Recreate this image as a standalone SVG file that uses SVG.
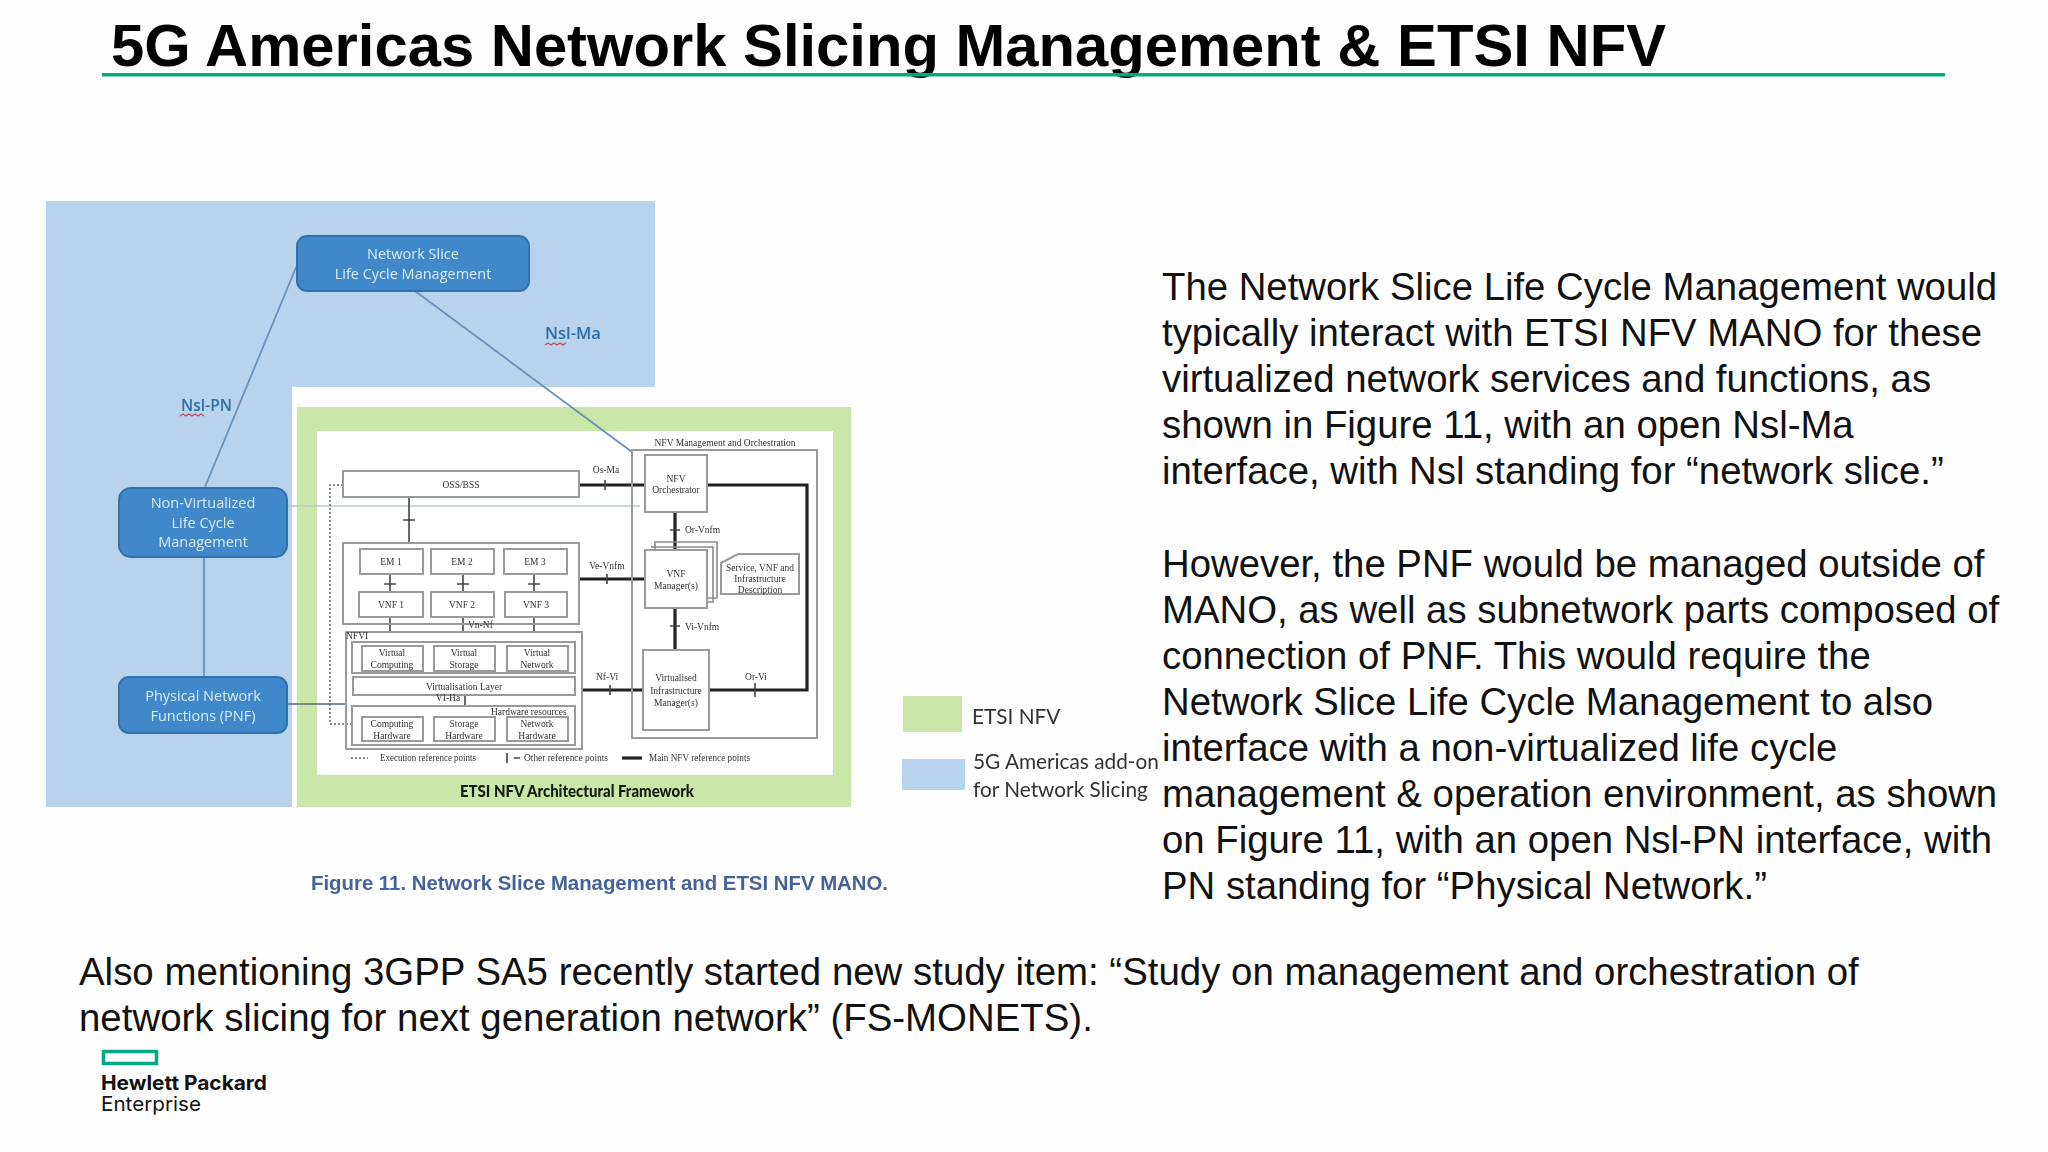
<svg xmlns="http://www.w3.org/2000/svg" width="2048" height="1152" viewBox="0 0 2048 1152" font-family="'Liberation Sans',Arial,sans-serif">
<defs>
<filter id="soft" x="-2%" y="-2%" width="104%" height="104%"><feGaussianBlur stdDeviation="0.65"/></filter>
</defs>
<style>
.title{font-size:60px;font-weight:700;fill:#000}
.body{font-size:38.35px;fill:#111}
.body2{font-size:38.42px;fill:#111}
.node{fill:#3f88c9;stroke:#2f72ae;stroke-width:2}
.nt{font-family:"Open Sans",sans-serif;font-size:14.5px;fill:#d8ecfa;text-anchor:middle}
.lab{font-family:"Open Sans",sans-serif;font-size:17px;font-weight:600;fill:#2a6ea8}
.sq{fill:none;stroke:#c8455a;stroke-width:1.2}
.b{fill:#fff;stroke:#9a9a9a;stroke-width:2}
.o{fill:none;stroke:#9a9a9a;stroke-width:2}
.l{fill:none;stroke:#8a8a8a;stroke-width:1.6}
.t{fill:none;stroke:#222;stroke-width:3.2}
.m{fill:none;stroke:#444;stroke-width:1.6}
.d{fill:none;stroke:#666;stroke-width:1.5;stroke-dasharray:2 2}
.c{fill:none;stroke:#6b90b8;stroke-width:1.8}
.f{font-family:"Liberation Serif",serif;font-size:9.5px;fill:#333;text-anchor:middle}
.fl{font-family:"Liberation Serif",serif;font-size:9.5px;fill:#333}
.leg{font-family:Lato,sans-serif;font-size:20.8px;fill:#333}
</style>
<rect width="2048" height="1152" fill="#fffefe"/>
<g id="header">
<text class="title" x="111" y="66" textLength="1555" lengthAdjust="spacingAndGlyphs">5G Americas Network Slicing Management &amp; ETSI NFV</text>
<rect x="102" y="73" width="1843" height="3.500" fill="#01a982"/>
</g>
<g id="figure" filter="url(#soft)">
<path d="M46 201H655V387H292V807H46Z" fill="#b9d3ec"/>
<rect x="297" y="407" width="554" height="400" fill="#c9e7a9"/>
<rect x="317" y="431" width="516" height="344" fill="#fff"/>
<g id="connectors">
<path class="c" d="M297 265L205 487"/>
<path class="c" d="M415 291L632 452"/>
<path class="c" d="M204 557V677"/>
<path d="M287 506H640" fill="none" stroke="#b7c9c4" stroke-width="1.500"/>
<path d="M287 704H347" fill="none" stroke="#55697a" stroke-width="1.600"/>
<path class="d" d="M343 485H330V724H352"/>
<path class="m" d="M409 497V543M403 520H415"/>
<path class="m" d="M390 574V592M384 584H396M463 574V592M457 584H469M534 574V592M528 584H540"/>
<path class="m" d="M390 617V632M463 617V632M534 617V632"/>
<path class="m" d="M465 695V706"/>
<path class="t" d="M579 485H645M707 485H807V690H709M675 512V550M675 608V650M579 579H645M582 690H643"/>
<path class="m" d="M605 480V490M607 574V584M610 685V695M755 683V697M670 530H680M670 626H680"/>
</g>
<g id="node-slice-lcm">
<rect class="node" x="297" y="236" width="232" height="55" rx="10"/>
<text class="nt" x="413" y="259">Network Slice</text>
<text class="nt" x="413" y="279">Life Cycle Management</text>
</g>
<g id="node-nv-lcm">
<rect class="node" x="119" y="488" width="168" height="69" rx="12"/>
<text class="nt" x="203" y="508">Non-Virtualized</text>
<text class="nt" x="203" y="528">Life Cycle</text>
<text class="nt" x="203" y="547">Management</text>
</g>
<g id="node-pnf">
<rect class="node" x="119" y="677" width="168" height="56" rx="10"/>
<text class="nt" x="203" y="701">Physical Network</text>
<text class="nt" x="203" y="721">Functions (PNF)</text>
</g>
<text class="lab" x="181" y="411" textLength="51" lengthAdjust="spacingAndGlyphs">Nsl-PN</text>
<path class="sq" d="M180 416l3-2 3 2 3-2 3 2 3-2 3 2 3-2 3 2"/>
<text class="lab" x="545" y="339" textLength="56" lengthAdjust="spacingAndGlyphs">Nsl-Ma</text>
<path class="sq" d="M545 345l3-2 3 2 3-2 3 2 3-2 3 2 3-2"/>
<g id="node-oss"><rect class="b" x="343" y="471" width="236" height="26"/><text class="f" x="461" y="488">OSS/BSS</text></g>
<g id="node-vnf-group">
<rect class="o" x="343" y="543" width="236" height="81"/>
<rect class="b" x="360" y="549" width="63" height="25"/><text class="f" x="391" y="565">EM 1</text>
<rect class="b" x="431" y="549" width="63" height="25"/><text class="f" x="462" y="565">EM 2</text>
<rect class="b" x="504" y="549" width="63" height="25"/><text class="f" x="535" y="565">EM 3</text>
<rect class="b" x="359" y="592" width="64" height="25"/><text class="f" x="391" y="608">VNF 1</text>
<rect class="b" x="431" y="592" width="63" height="25"/><text class="f" x="462" y="608">VNF 2</text>
<rect class="b" x="505" y="592" width="62" height="25"/><text class="f" x="536" y="608">VNF 3</text>
<text class="fl" x="468" y="628">Vn-Nf</text>
</g>
<g id="node-nfvi">
<rect class="o" x="346" y="632" width="236" height="117"/>
<text class="fl" x="346" y="639">NFVI</text>
<rect class="o" x="352" y="642" width="223" height="31"/>
<rect class="b" x="362" y="646" width="61" height="25"/><text class="f" x="392" y="656">Virtual</text><text class="f" x="392" y="668">Computing</text>
<rect class="b" x="434" y="646" width="61" height="25"/><text class="f" x="464" y="656">Virtual</text><text class="f" x="464" y="668">Storage</text>
<rect class="b" x="507" y="646" width="61" height="25"/><text class="f" x="537" y="656">Virtual</text><text class="f" x="537" y="668">Network</text>
<rect class="b" x="353" y="677" width="222" height="18"/><text class="f" x="464" y="690">Virtualisation Layer</text>
<text class="f" x="448" y="701">VI-Ha</text>
<rect class="o" x="352" y="706" width="223" height="39"/>
<text class="fl" x="491" y="715">Hardware resources</text>
<rect class="b" x="362" y="717" width="61" height="24"/><text class="f" x="392" y="727">Computing</text><text class="f" x="392" y="739">Hardware</text>
<rect class="b" x="434" y="717" width="61" height="24"/><text class="f" x="464" y="727">Storage</text><text class="f" x="464" y="739">Hardware</text>
<rect class="b" x="507" y="717" width="61" height="24"/><text class="f" x="537" y="727">Network</text><text class="f" x="537" y="739">Hardware</text>
</g>
<g id="node-mano">
<rect class="o" x="632" y="450" width="185" height="288"/>
<text class="f" x="725" y="446">NFV Management and Orchestration</text>
</g>
<g id="node-orchestrator"><rect class="b" x="645" y="455" width="62" height="57"/><text class="f" x="676" y="482">NFV</text><text class="f" x="676" y="493">Orchestrator</text></g>
<g id="node-vnfm">
<path class="l" d="M655 550V542H717V598H707"/><path class="l" d="M651 547H713V602H707"/>
<rect class="b" x="645" y="550" width="62" height="58"/><text class="f" x="676" y="577">VNF</text><text class="f" x="676" y="589">Manager(s)</text>
</g>
<g id="node-vim"><rect class="b" x="643" y="650" width="66" height="80"/><text class="f" x="676" y="681">Virtualised</text><text class="f" x="676" y="694">Infrastructure</text><text class="f" x="676" y="706">Manager(s)</text></g>
<g id="node-description"><path class="b" d="M721 563L738 554H799V594H721Z"/><text class="f" x="760" y="571">Service, VNF and</text><text class="f" x="760" y="582">Infrastructure</text><text class="f" x="760" y="593">Description</text></g>
<text class="f" x="606" y="473">Os-Ma</text>
<text class="f" x="607" y="569">Ve-Vnfm</text>
<text class="f" x="607" y="680">Nf-Vi</text>
<text class="f" x="756" y="680">Or-Vi</text>
<text class="fl" x="685" y="533">Or-Vnfm</text>
<text class="fl" x="685" y="630">Vi-Vnfm</text>
<path class="d" d="M351 758H368"/>
<text class="fl" x="380" y="761" textLength="96" lengthAdjust="spacingAndGlyphs">Execution reference points</text>
<path class="m" d="M507 753V763M514 758H520"/>
<text class="fl" x="524" y="761" textLength="84" lengthAdjust="spacingAndGlyphs">Other reference points</text>
<path class="t" d="M622 758H642"/>
<text class="fl" x="649" y="761" textLength="101" lengthAdjust="spacingAndGlyphs">Main NFV reference points</text>
<text x="577" y="797" text-anchor="middle" font-family="Lato,sans-serif" font-size="16.500" font-weight="900" fill="#101a08" textLength="234" lengthAdjust="spacingAndGlyphs">ETSI NFV Architectural Framework</text>
<g id="legend">
<rect x="903" y="696" width="59" height="36" fill="#c9e7a9"/>
<text class="leg" x="972" y="724">ETSI NFV</text>
<rect x="902" y="759" width="63" height="31" fill="#b9d3ec"/>
<text class="leg" x="973" y="769">5G Americas add-on</text>
<text class="leg" x="973" y="797">for Network Slicing</text>
</g>
<text x="311" y="890" font-size="19.500" font-weight="700" fill="#44649a" textLength="577" lengthAdjust="spacingAndGlyphs">Figure 11. Network Slice Management and ETSI NFV MANO.</text>
</g>
<g id="body">
<text class="body" x="1162" y="300">The Network Slice Life Cycle Management would</text>
<text class="body" x="1162" y="346">typically interact with ETSI NFV MANO for these</text>
<text class="body" x="1162" y="392">virtualized network services and functions, as</text>
<text class="body" x="1162" y="438">shown in Figure 11, with an open Nsl-Ma</text>
<text class="body" x="1162" y="484">interface, with Nsl standing for “network slice.”</text>
<text class="body" x="1162" y="577">However, the PNF would be managed outside of</text>
<text class="body" x="1162" y="623">MANO, as well as subnetwork parts composed of</text>
<text class="body" x="1162" y="669">connection of PNF. This would require the</text>
<text class="body" x="1162" y="715">Network Slice Life Cycle Management to also</text>
<text class="body" x="1162" y="761">interface with a non-virtualized life cycle</text>
<text class="body" x="1162" y="807">management &amp; operation environment, as shown</text>
<text class="body" x="1162" y="853">on Figure 11, with an open Nsl-PN interface, with</text>
<text class="body" x="1162" y="899">PN standing for “Physical Network.”</text>
<text class="body2" x="79" y="985">Also mentioning 3GPP SA5 recently started new study item: “Study on management and orchestration of</text>
<text class="body2" x="79" y="1031">network slicing for next generation network” (FS-MONETS).</text>
</g>
<g id="logo">
<rect x="103.500" y="1051.500" width="53" height="12" fill="none" stroke="#01a982" stroke-width="3.500"/>
<text x="101" y="1090" font-family="Inter,sans-serif" font-size="20" font-weight="700" fill="#111" textLength="166" lengthAdjust="spacingAndGlyphs">Hewlett Packard</text>
<text x="101" y="1111" font-family="Inter,sans-serif" font-size="20" fill="#111" textLength="100" lengthAdjust="spacingAndGlyphs">Enterprise</text>
</g>
</svg>
